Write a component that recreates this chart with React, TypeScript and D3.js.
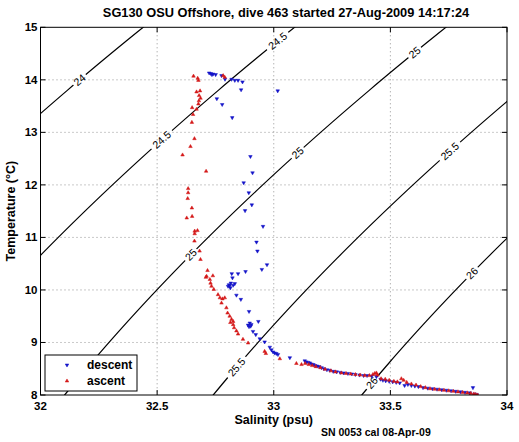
import React from 'react';
import * as d3 from 'd3';

const SAL_TICKS = [32, 32.5, 33, 33.5, 34];
const TEMP_TICKS = [8, 9, 10, 11, 12, 13, 14, 15];
const SIGMA_LEVELS = [24, 24.5, 25, 25.5, 26];
// [sigma level, temperature where the label sits]
const CONTOUR_LABELS: [number, number][] = [
  [24, 14.0], [24.5, 14.74], [24.5, 12.86], [25, 14.52], [25, 12.61], [25, 10.67],
  [25.5, 12.64], [25.5, 8.53], [26, 10.32], [26, 8.23],
];

const TITLE = 'SG130 OSU Offshore, dive 463 started 27-Aug-2009 14:17:24';
const X_LABEL = 'Salinity (psu)';
const Y_LABEL = 'Temperature (\u00B0C)';
const NOTE = 'SN 0053 cal 08-Apr-09';
const LEGEND = ['descent', 'ascent'];

const DESCENT: [number, number][] = [
  [32.723, 14.13], [32.730, 14.12], [32.735, 14.10], [32.740, 14.11], [32.751, 14.10], [32.776, 14.08],
  [32.791, 14.01], [32.819, 14.01], [32.833, 13.99], [32.847, 13.99], [32.866, 13.96], [32.860, 13.81],
  [33.017, 13.79], [32.756, 13.64], [32.779, 13.53], [32.822, 13.28],
  [32.900, 12.54], [32.909, 12.23], [32.871, 12.04], [32.893, 11.85], [32.906, 11.62], [32.877, 11.51],
  [32.954, 11.21], [32.926, 10.91], [32.930, 10.74], [32.949, 10.39], [32.971, 10.48], [32.879, 10.35],
  [32.847, 10.31], [32.820, 10.31], [32.823, 10.23], [32.804, 10.07], [32.814, 10.04], [32.833, 10.12],
  [32.811, 10.08], [32.808, 10.10], [32.816, 10.13], [32.826, 10.09], [32.840, 9.90], [32.859, 9.82],
  [32.894, 9.59], [32.934, 9.40], [32.897, 9.37], [32.890, 9.33], [32.904, 9.34], [32.894, 9.30],
  [32.901, 9.31], [32.911, 9.21], [32.923, 9.15], [32.940, 9.07], [32.961, 9.01], [32.983, 8.91],
  [32.990, 8.86], [32.997, 8.82], [33.004, 8.80], [33.011, 8.79], [33.018, 8.77], [33.069, 8.71],
  [33.133, 8.65], [33.140, 8.63], [33.148, 8.62], [33.155, 8.61], [33.162, 8.59], [33.170, 8.58],
  [33.178, 8.56], [33.186, 8.55], [33.195, 8.54], [33.205, 8.52], [33.215, 8.50], [33.228, 8.48],
  [33.240, 8.47], [33.255, 8.45], [33.270, 8.44], [33.285, 8.43], [33.300, 8.42], [33.318, 8.41],
  [33.335, 8.40], [33.350, 8.39], [33.368, 8.38], [33.385, 8.37], [33.400, 8.37], [33.420, 8.36],
  [33.440, 8.35], [33.458, 8.30], [33.468, 8.28], [33.480, 8.27], [33.495, 8.26], [33.510, 8.25],
  [33.525, 8.24], [33.540, 8.23], [33.561, 8.18], [33.575, 8.20], [33.590, 8.18], [33.605, 8.17],
  [33.620, 8.16], [33.640, 8.14], [33.660, 8.13], [33.680, 8.12], [33.700, 8.11], [33.720, 8.10],
  [33.740, 8.09], [33.760, 8.08], [33.780, 8.07], [33.800, 8.06], [33.820, 8.05], [33.840, 8.04],
  [33.854, 8.14], [33.860, 8.02], [33.870, 8.01],
];

const ASCENT: [number, number][] = [
  [32.656, 14.07], [32.674, 14.03], [32.677, 13.99], [32.783, 14.08], [32.790, 14.05], [32.669, 13.77],
  [32.684, 13.79], [32.680, 13.70], [32.686, 13.65], [32.679, 13.60], [32.677, 13.54], [32.650, 13.47],
  [32.669, 13.44], [32.654, 13.34], [32.649, 13.19], [32.660, 12.88], [32.643, 12.73], [32.609, 12.57],
  [32.710, 12.26], [32.633, 11.93], [32.633, 11.85], [32.631, 11.74], [32.649, 11.56], [32.650, 11.40],
  [32.627, 11.37], [32.661, 11.12], [32.673, 11.13], [32.661, 11.07], [32.660, 10.93], [32.682, 10.74],
  [32.686, 10.58], [32.716, 10.37], [32.712, 10.26], [32.739, 10.27], [32.709, 10.24], [32.726, 10.20],
  [32.729, 10.13], [32.733, 10.07], [32.743, 10.01], [32.761, 9.91], [32.769, 9.85], [32.780, 9.83],
  [32.790, 9.85], [32.776, 9.75], [32.797, 9.66], [32.802, 9.56], [32.811, 9.50], [32.819, 9.44],
  [32.826, 9.40], [32.814, 9.38], [32.826, 9.34], [32.830, 9.28], [32.840, 9.22], [32.847, 9.16],
  [32.868, 9.06], [32.890, 8.99], [32.961, 8.83], [32.966, 8.79], [33.026, 8.69], [33.097, 8.60],
  [33.119, 8.58], [33.135, 8.60], [33.150, 8.58], [33.165, 8.56], [33.180, 8.54], [33.200, 8.52],
  [33.220, 8.49], [33.245, 8.46], [33.265, 8.44], [33.290, 8.42], [33.310, 8.41], [33.330, 8.40],
  [33.350, 8.39], [33.370, 8.38], [33.390, 8.37], [33.410, 8.37], [33.425, 8.39], [33.433, 8.41],
  [33.440, 8.42], [33.445, 8.38], [33.460, 8.31], [33.478, 8.30], [33.495, 8.28], [33.515, 8.26],
  [33.530, 8.25], [33.547, 8.31], [33.557, 8.28], [33.570, 8.24], [33.590, 8.21], [33.610, 8.19],
  [33.630, 8.16], [33.650, 8.14], [33.670, 8.12], [33.690, 8.11], [33.710, 8.10], [33.730, 8.09],
  [33.750, 8.08], [33.770, 8.07], [33.790, 8.06], [33.810, 8.05], [33.830, 8.04], [33.845, 8.03],
  [33.858, 8.02], [33.866, 8.01], [33.874, 8.00],
];

// UNESCO EOS-80 density at surface pressure, returns sigma-t
function sigmaT(S: number, T: number): number {
  const rw = 999.842594 + 6.793952e-2 * T - 9.09529e-3 * T * T + 1.001685e-4 * T ** 3
    - 1.120083e-6 * T ** 4 + 6.536332e-9 * T ** 5;
  const A = 0.824493 - 4.0899e-3 * T + 7.6438e-5 * T * T - 8.2467e-7 * T ** 3 + 5.3875e-9 * T ** 4;
  const B = -5.72466e-3 + 1.0227e-4 * T - 1.6546e-6 * T * T;
  const C = 4.8314e-4;
  return rw + A * S + B * S ** 1.5 + C * S * S - 1000;
}
function salForSigma(sig: number, T: number): number {
  let lo = 28, hi = 38;
  for (let i = 0; i < 50; i++) {
    const mid = (lo + hi) / 2;
    if (sigmaT(mid, T) < sig) lo = mid; else hi = mid;
  }
  return (lo + hi) / 2;
}

const W = 519, H = 442;
const FONT = '"Liberation Sans", Arial, Helvetica, sans-serif';

export default function App() {
  const x = d3.scaleLinear().domain([32, 34]).range([40.5, 507]);
  const y = d3.scaleLinear().domain([8, 15]).range([395, 27.3]);
  const [x0, x1] = x.range();
  const [yb, yt] = y.range();

  const tGrid = d3.range(7.0, 16.01, 0.1);
  const line = d3.line<[number, number]>().x(d => x(d[0])).y(d => y(d[1]));
  const contours = SIGMA_LEVELS.map(lv => ({
    lv,
    d: line(tGrid.map(t => [salForSigma(lv, t), t] as [number, number])) || '',
  }));

  const labels = CONTOUR_LABELS.map(([lv, t]) => {
    const s = salForSigma(lv, t);
    const pa = [x(salForSigma(lv, t - 0.05)), y(t - 0.05)];
    const pb = [x(salForSigma(lv, t + 0.05)), y(t + 0.05)];
    const ang = (Math.atan2(pb[1] - pa[1], pb[0] - pa[0]) * 180) / Math.PI;
    const txt = String(lv);
    const w = txt.length * 5.6 + 5;
    return { cx: x(s), cy: y(t), ang, txt, w };
  });

  const tri = d3.symbol().type(d3.symbolTriangle).size(5.5)() || '';
  const blue = '#1414c8';
  const red = '#d41818';

  return (
    <svg width={W} height={H} style={{ position: 'absolute', left: 0, top: 0, background: '#fff' }}
      fontFamily={FONT}>
      <defs>
        <clipPath id="plotclip">
          <rect x={x0} y={yt} width={x1 - x0} height={yb - yt} />
        </clipPath>
        <mask id="lblmask" maskUnits="userSpaceOnUse" x={0} y={0} width={W} height={H}>
          <rect x={0} y={0} width={W} height={H} fill="#fff" />
          {labels.map((l, i) => (
            <rect key={i} x={-l.w / 2} y={-5} width={l.w} height={10} fill="#000"
              transform={`translate(${l.cx},${l.cy}) rotate(${l.ang})`} />
          ))}
        </mask>
      </defs>
      <rect x={0} y={0} width={W} height={H} fill="#fff" />
      <rect x={x0} y={yt} width={x1 - x0} height={yb - yt} fill="#fff" />

      {/* grid */}
      <g stroke="#666" strokeWidth={0.7} strokeDasharray="1 3">
        {SAL_TICKS.slice(1, -1).map(s => (
          <line key={s} x1={x(s)} x2={x(s)} y1={yt} y2={yb} />
        ))}
        {TEMP_TICKS.slice(1, -1).map(t => (
          <line key={t} x1={x0} x2={x1} y1={y(t)} y2={y(t)} />
        ))}
      </g>

      {/* density contours */}
      <g clipPath="url(#plotclip)">
        <g mask="url(#lblmask)">
          {contours.map(c => (
            <path key={c.lv} d={c.d} fill="none" stroke="#000" strokeWidth={1.2} />
          ))}
        </g>
      </g>
      {labels.map((l, i) => (
        <text key={i} transform={`translate(${l.cx},${l.cy}) rotate(${l.ang})`} textAnchor="middle"
          dy="0.35em" fontSize={10.5} fill="#000">{l.txt}</text>
      ))}

      {/* data */}
      <g clipPath="url(#plotclip)">
        {DESCENT.map((d, i) => (
          <path key={'d' + i} d={tri} transform={`translate(${x(d[0])},${y(d[1])}) rotate(180)`}
            fill={blue} stroke={blue} strokeWidth={0.5} />
        ))}
        {ASCENT.map((d, i) => (
          <path key={'a' + i} d={tri} transform={`translate(${x(d[0])},${y(d[1])})`}
            fill={red} stroke={red} strokeWidth={0.5} />
        ))}
      </g>

      {/* axes box and ticks */}
      <rect x={x0} y={yt} width={x1 - x0} height={yb - yt} fill="none" stroke="#000" strokeWidth={1} />
      <g stroke="#000" strokeWidth={1}>
        {SAL_TICKS.map(s => (
          <g key={s}>
            <line x1={x(s)} x2={x(s)} y1={yb} y2={yb - 5} />
            <line x1={x(s)} x2={x(s)} y1={yt} y2={yt + 5} />
          </g>
        ))}
        {TEMP_TICKS.map(t => (
          <g key={t}>
            <line x1={x0} x2={x0 + 5} y1={y(t)} y2={y(t)} />
            <line x1={x1} x2={x1 - 5} y1={y(t)} y2={y(t)} />
          </g>
        ))}
      </g>
      <g fontSize={11.5} fontWeight="bold" fill="#000">
        {SAL_TICKS.map(s => (
          <text key={s} x={x(s)} y={yb + 15} textAnchor="middle">{String(s)}</text>
        ))}
        {TEMP_TICKS.map(t => (
          <text key={t} x={x0 - 3} y={y(t)} dy="0.35em" textAnchor="end">{String(t)}</text>
        ))}
      </g>

      {/* titles */}
      <text x={286} y={17} textAnchor="middle" fontSize={12.8} fontWeight="bold">{TITLE}</text>
      <text x={(x0 + x1) / 2} y={424} textAnchor="middle" fontSize={12.5} fontWeight="bold">{X_LABEL}</text>
      <text transform={`translate(15,${(yt + yb) / 2}) rotate(-90)`} textAnchor="middle" fontSize={12.5}
        fontWeight="bold">{Y_LABEL}</text>
      <text x={321} y={436} fontSize={10.5} fontWeight="bold">{NOTE}</text>

      {/* legend */}
      <g>
        <rect x={45} y={355} width={92} height={36} fill="#fff" stroke="#000" strokeWidth={1} />
        <path d={tri} transform="translate(67,365) rotate(180)" fill={blue} stroke={blue} strokeWidth={0.5} />
        <path d={tri} transform="translate(67,381)" fill={red} stroke={red} strokeWidth={0.5} />
        <text x={87} y={369} fontSize={12} fontWeight="bold">{LEGEND[0]}</text>
        <text x={87} y={385} fontSize={12} fontWeight="bold">{LEGEND[1]}</text>
      </g>
    </svg>
  );
}
